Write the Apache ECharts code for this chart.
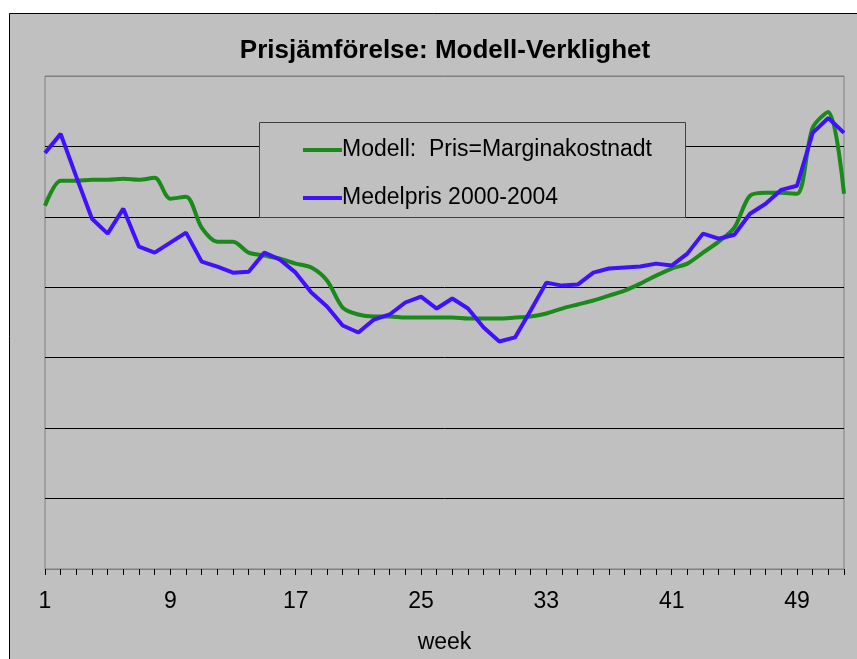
<!DOCTYPE html>
<html>
<head>
<meta charset="utf-8">
<script src="https://cdn.jsdelivr.net/npm/echarts@6/dist/echarts.min.js"></script>
<style>
  html, body { margin: 0; padding: 0; background: #fff; }
  #chart { width: 857px; height: 659px; }
</style>
</head>
<body>
<div id="chart"></div>
<script>
// veckor 1..52
var weeks = [];
for (var w = 1; w <= 52; w++) {
  weeks.push(String(w));
}

// Modell: Pris=Marginakostnadt
var modell = [
  257.9, 275.6, 275.6, 276.3, 276.3, 277.0, 276.3, 277.7, 262.9, 264.3,
  242.3, 232.4, 232.4, 224.6, 222.5, 220.3, 216.8, 214.0, 204.8, 185.6,
  180.7, 179.3, 179.3, 178.5, 178.5, 178.5, 178.5, 177.8, 177.8, 177.8,
  178.5, 179.3, 181.4, 184.9, 187.8, 190.6, 194.1, 197.7, 202.6, 208.3,
  213.3, 216.8, 224.6, 232.4, 242.3, 265.0, 267.1, 267.1, 266.4, 313.2,
  324.5, 266.4
];

// Medelpris 2000-2004
var medelpris = [
  295.4, 308.9, 278.4, 248.7, 238.1, 255.8, 228.8, 224.6, 231.7, 238.8,
  218.2, 214.7, 210.4, 211.1, 224.6, 219.6, 210.4, 196.3, 186.3, 172.9,
  167.9, 177.1, 180.7, 189.2, 193.4, 184.9, 192.0, 184.9, 171.5, 161.5,
  164.4, 183.5, 203.3, 201.2, 201.9, 210.4, 213.3, 214.0, 214.7, 216.8,
  215.4, 223.9, 238.1, 234.5, 237.3, 252.2, 259.3, 269.2, 272.1, 309.6,
  320.2, 309.6
];

var font = 'Arial, "Liberation Sans", sans-serif';

var myChart = echarts.init(document.getElementById("chart"));

var option = {
  backgroundColor: "#ffffff",
  animation: false,
  graphic: [
    {
      type: "rect",
      z: -10,
      silent: true,
      shape: { x: 9.5, y: 13.5, width: 900, height: 700 },
      style: { fill: "#c0c0c0", stroke: "#000", lineWidth: 1 }
    },
    {
      // legend box
      type: "rect",
      z: 5,
      silent: true,
      shape: { x: 259.5, y: 122.5, width: 426, height: 95 },
      style: { fill: "#c0c0c0", stroke: "#404040", lineWidth: 1 }
    }
  ],
  title: {
    text: "Prisjämförelse: Modell-Verklighet",
    left: 440,
    top: 33,
    textAlign: "center",
    textStyle: {
      fontFamily: font,
      fontSize: 26,
      fontWeight: "bold",
      color: "#000"
    }
  },
  legend: {
    orient: "vertical",
    left: 298,
    top: 133,
    z: 10,
    icon: "rect",
    itemWidth: 39,
    itemHeight: 4,
    itemGap: 24,
    textStyle: {
      fontFamily: font,
      fontSize: 23,
      lineHeight: 24,
      color: "#000",
      padding: [0, 0, 0, -5]
    },
    data: ["Modell:  Pris=Marginakostnadt", "Medelpris 2000-2004"]
  },
  grid: {
    left: 45,
    right: 13,
    top: 76,
    bottom: 90,
    show: true,
    borderColor: "#808080",
    borderWidth: 1,
    backgroundColor: "transparent"
  },
  xAxis: {
    type: "category",
    data: weeks,
    boundaryGap: false,
    name: "week",
    nameLocation: "middle",
    nameGap: 62,
    nameTextStyle: { fontFamily: font, fontSize: 23, color: "#000" },
    axisLine: { lineStyle: { color: "#808080", width: 1 } },
    axisTick: {
      interval: 0,
      length: 6,
      lineStyle: { color: "#000" }
    },
    axisLabel: {
      interval: 7,
      margin: 21,
      fontFamily: font,
      fontSize: 23,
      color: "#000"
    },
    splitLine: { show: false }
  },
  yAxis: {
    type: "value",
    min: 0,
    max: 350,
    interval: 50,
    axisLine: { show: false },
    axisTick: { show: false },
    axisLabel: { show: false },
    splitLine: {
      lineStyle: {
        width: 1,
        color: ["#808080", "#000", "#000", "#000", "#000", "#000", "#000", "#808080"]
      }
    }
  },
  series: [
    {
      name: "Modell:  Pris=Marginakostnadt",
      type: "line",
      data: modell,
      smooth: 0.3,
      showSymbol: false,
      symbol: "none",
      itemStyle: { color: "#1a8a1a" },
      lineStyle: { color: "#1a8a1a", width: 4 }
    },
    {
      name: "Medelpris 2000-2004",
      type: "line",
      data: medelpris,
      showSymbol: false,
      symbol: "none",
      itemStyle: { color: "#4010ff" },
      lineStyle: { color: "#4010ff", width: 4 }
    }
  ]
};
myChart.setOption(option);
</script>
</body>
</html>
